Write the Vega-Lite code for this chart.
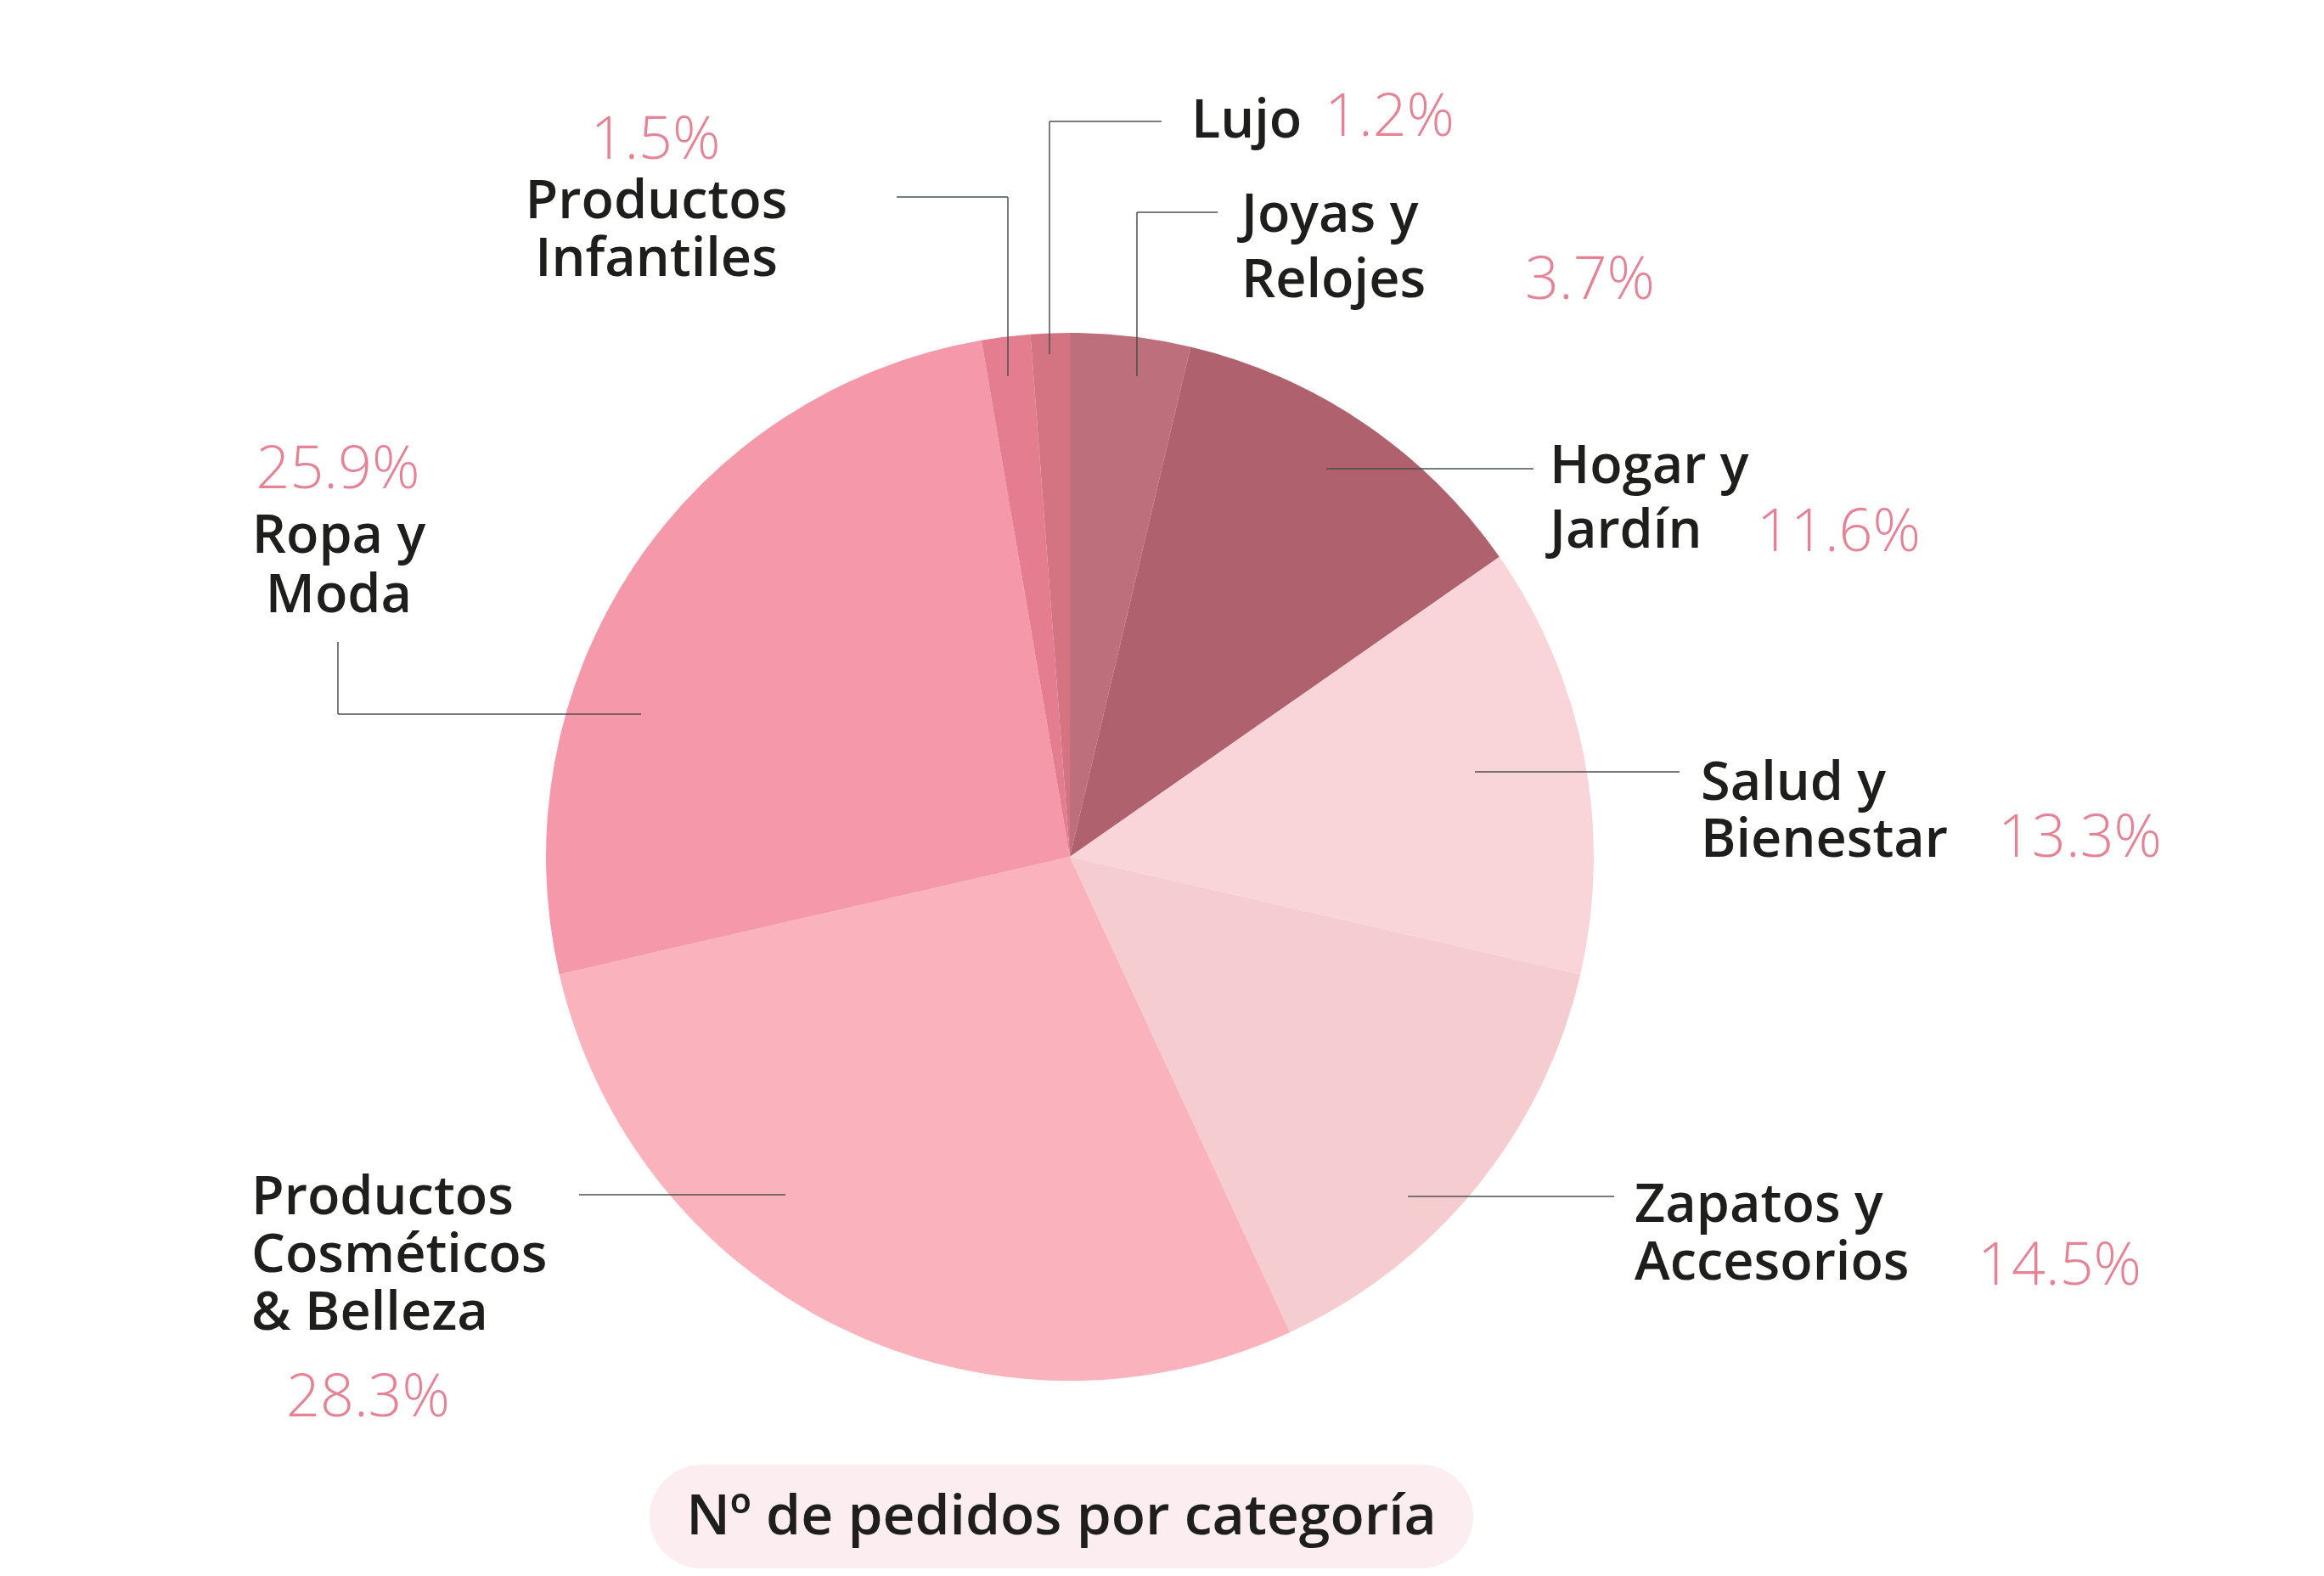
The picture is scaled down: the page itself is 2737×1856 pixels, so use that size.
{
  "$schema": "https://vega.github.io/schema/vega-lite/v6.json",
  "width": 2520,
  "height": 1694,
  "autosize": {"type": "none"},
  "padding": {"left": 0, "top": 162, "right": 217, "bottom": 0},
  "background": "white",
  "config": {"view": {"stroke": null}},
  "datasets": {
    "pedidos": [
      {"categoria": "Joyas y Relojes", "nombre": "Joyas y\nRelojes", "porcentaje": 3.7, "orden": 1},
      {"categoria": "Hogar y Jardín", "nombre": "Hogar y\nJardín", "porcentaje": 11.6, "orden": 2},
      {"categoria": "Salud y Bienestar", "nombre": "Salud y\nBienestar", "porcentaje": 13.3, "orden": 3},
      {"categoria": "Zapatos y Accesorios", "nombre": "Zapatos y\nAccesorios", "porcentaje": 14.5, "orden": 4},
      {"categoria": "Productos Cosméticos & Belleza", "nombre": "Productos\nCosméticos\n& Belleza", "porcentaje": 28.3, "orden": 5},
      {"categoria": "Ropa y Moda", "nombre": "Ropa y\nModa", "porcentaje": 25.9, "orden": 6},
      {"categoria": "Productos Infantiles", "nombre": "Productos\nInfantiles", "porcentaje": 1.5, "orden": 7},
      {"categoria": "Lujo", "nombre": "Lujo", "porcentaje": 1.2, "orden": 8}
    ]
  },
  "data": {"name": "pedidos"},
  "transform": [{"calculate": "format(datum.porcentaje, '.1f') + '%'", "as": "etiqueta"}],
  "layer": [
    {
      "mark": {"type": "arc", "radius": 617},
      "encoding": {
        "theta": {"field": "porcentaje", "type": "quantitative", "stack": true},
        "order": {"field": "orden", "type": "quantitative"},
        "color": {
          "field": "categoria", "type": "nominal", "legend": null,
          "scale": {
            "domain": ["Joyas y Relojes", "Hogar y Jardín", "Salud y Bienestar", "Zapatos y Accesorios", "Productos Cosméticos & Belleza", "Ropa y Moda", "Productos Infantiles", "Lujo"],
            "range": ["#BE6F7C", "#AF616E", "#F9D5DA", "#F5CDD0", "#FAB3BD", "#F598A9", "#E37D8F", "#D47382"]
          }
        }
      }
    },
    {
      "data": {"values": [{}]},
      "mark": {"type": "rect", "cornerRadius": 61, "color": "#FCEEF0"},
      "encoding": {
        "x": {"datum": -0.8023, "type": "quantitative", "axis": null, "scale": {"domain": [-2.0421, 2.0421], "nice": false, "zero": false}},
        "x2": {"datum": 0.7699},
        "y": {"datum": -1.1605, "type": "quantitative", "axis": null, "scale": {"domain": [-1.3728, 1.3728], "nice": false, "zero": false}},
        "y2": {"datum": -1.3582}
      }
    },
    {
      "data": {"values": [{}]},
      "mark": {"type": "text", "text": "Nº de pedidos por categoría", "align": "center", "baseline": "alphabetic", "font": "Open Sans", "fontWeight": 600, "fontSize": 66, "color": "#1E1E1C"},
      "encoding": {"x": {"datum": -0.0162, "type": "quantitative"}, "y": {"datum": -1.2934, "type": "quantitative"}}
    },
    {
      "data": {"values": [{}]},
      "mark": {"type": "rule", "color": "#4A524C", "strokeWidth": 1.5},
      "encoding": {"x": {"datum": -0.0389, "type": "quantitative"}, "x2": {"datum": 0.175}, "y": {"datum": 1.4036, "type": "quantitative"}, "y2": {"datum": 1.4036}}
    },
    {
      "data": {"values": [{}]},
      "mark": {"type": "rule", "color": "#4A524C", "strokeWidth": 1.5},
      "encoding": {"x": {"datum": -0.0389, "type": "quantitative"}, "x2": {"datum": -0.0389}, "y": {"datum": 1.4036, "type": "quantitative"}, "y2": {"datum": 0.9595}}
    },
    {
      "data": {"values": [{}]},
      "mark": {"type": "rule", "color": "#4A524C", "strokeWidth": 1.5},
      "encoding": {"x": {"datum": -0.3306, "type": "quantitative"}, "x2": {"datum": -0.1183}, "y": {"datum": 1.2593, "type": "quantitative"}, "y2": {"datum": 1.2593}}
    },
    {
      "data": {"values": [{}]},
      "mark": {"type": "rule", "color": "#4A524C", "strokeWidth": 1.5},
      "encoding": {"x": {"datum": -0.1183, "type": "quantitative"}, "x2": {"datum": -0.1183}, "y": {"datum": 1.2593, "type": "quantitative"}, "y2": {"datum": 0.9173}}
    },
    {
      "data": {"values": [{}]},
      "mark": {"type": "rule", "color": "#4A524C", "strokeWidth": 1.5},
      "encoding": {"x": {"datum": 0.128, "type": "quantitative"}, "x2": {"datum": 0.282}, "y": {"datum": 1.2301, "type": "quantitative"}, "y2": {"datum": 1.2301}}
    },
    {
      "data": {"values": [{}]},
      "mark": {"type": "rule", "color": "#4A524C", "strokeWidth": 1.5},
      "encoding": {"x": {"datum": 0.128, "type": "quantitative"}, "x2": {"datum": 0.128}, "y": {"datum": 1.2301, "type": "quantitative"}, "y2": {"datum": 0.9173}}
    },
    {
      "data": {"values": [{}]},
      "mark": {"type": "rule", "color": "#4A524C", "strokeWidth": 1.5},
      "encoding": {"x": {"datum": 0.4895, "type": "quantitative"}, "x2": {"datum": 0.8849}, "y": {"datum": 0.7407, "type": "quantitative"}, "y2": {"datum": 0.7407}}
    },
    {
      "data": {"values": [{}]},
      "mark": {"type": "rule", "color": "#4A524C", "strokeWidth": 1.5},
      "encoding": {"x": {"datum": 0.7731, "type": "quantitative"}, "x2": {"datum": 1.1637}, "y": {"datum": 0.1621, "type": "quantitative"}, "y2": {"datum": 0.1621}}
    },
    {
      "data": {"values": [{}]},
      "mark": {"type": "rule", "color": "#4A524C", "strokeWidth": 1.5},
      "encoding": {"x": {"datum": 0.6451, "type": "quantitative"}, "x2": {"datum": 1.0389}, "y": {"datum": -0.6483, "type": "quantitative"}, "y2": {"datum": -0.6483}}
    },
    {
      "data": {"values": [{}]},
      "mark": {"type": "rule", "color": "#4A524C", "strokeWidth": 1.5},
      "encoding": {"x": {"datum": -0.9368, "type": "quantitative"}, "x2": {"datum": -0.5429}, "y": {"datum": -0.6451, "type": "quantitative"}, "y2": {"datum": -0.6451}}
    },
    {
      "data": {"values": [{}]},
      "mark": {"type": "rule", "color": "#4A524C", "strokeWidth": 1.5},
      "encoding": {"x": {"datum": -1.3971, "type": "quantitative"}, "x2": {"datum": -1.3971}, "y": {"datum": 0.41, "type": "quantitative"}, "y2": {"datum": 0.2723}}
    },
    {
      "data": {"values": [{}]},
      "mark": {"type": "rule", "color": "#4A524C", "strokeWidth": 1.5},
      "encoding": {"x": {"datum": -1.3971, "type": "quantitative"}, "x2": {"datum": -0.8185}, "y": {"datum": 0.2723, "type": "quantitative"}, "y2": {"datum": 0.2723}}
    },
    {
      "transform": [{"filter": "datum.categoria === 'Lujo'"}],
      "mark": {"type": "text", "align": "left", "baseline": "alphabetic", "font": "Open Sans", "fontWeight": 600, "fontSize": 63, "letterSpacing": 1, "lineHeight": 72, "lineBreak": "\n", "color": "#1E1E1C"},
      "encoding": {"x": {"datum": 0.2318, "type": "quantitative"}, "y": {"datum": 1.3728, "type": "quantitative"}, "text": {"field": "nombre"}}
    },
    {
      "transform": [{"filter": "datum.categoria === 'Lujo'"}],
      "mark": {"type": "text", "align": "left", "baseline": "alphabetic", "font": "Open Sans", "fontWeight": 300, "fontSize": 70, "color": "#E58294"},
      "encoding": {"x": {"datum": 0.4862, "type": "quantitative"}, "y": {"datum": 1.376, "type": "quantitative"}, "text": {"field": "etiqueta"}}
    },
    {
      "transform": [{"filter": "datum.categoria === 'Productos Infantiles'"}],
      "mark": {"type": "text", "align": "center", "baseline": "alphabetic", "font": "Open Sans", "fontWeight": 600, "fontSize": 63, "letterSpacing": 1, "lineHeight": 68, "lineBreak": "\n", "color": "#1E1E1C"},
      "encoding": {"x": {"datum": -0.7893, "type": "quantitative"}, "y": {"datum": 1.2188, "type": "quantitative"}, "text": {"field": "nombre"}}
    },
    {
      "transform": [{"filter": "datum.categoria === 'Productos Infantiles'"}],
      "mark": {"type": "text", "align": "center", "baseline": "alphabetic", "font": "Open Sans", "fontWeight": 300, "fontSize": 70, "color": "#E58294"},
      "encoding": {"x": {"datum": -0.7909, "type": "quantitative"}, "y": {"datum": 1.3323, "type": "quantitative"}, "text": {"field": "etiqueta"}}
    },
    {
      "transform": [{"filter": "datum.categoria === 'Joyas y Relojes'"}],
      "mark": {"type": "text", "align": "left", "baseline": "alphabetic", "font": "Open Sans", "fontWeight": 600, "fontSize": 63, "letterSpacing": 1, "lineHeight": 77, "lineBreak": "\n", "color": "#1E1E1C"},
      "encoding": {"x": {"datum": 0.3274, "type": "quantitative"}, "y": {"datum": 1.1929, "type": "quantitative"}, "text": {"field": "nombre"}}
    },
    {
      "transform": [{"filter": "datum.categoria === 'Joyas y Relojes'"}],
      "mark": {"type": "text", "align": "left", "baseline": "alphabetic", "font": "Open Sans", "fontWeight": 300, "fontSize": 70, "color": "#E58294"},
      "encoding": {"x": {"datum": 0.8687, "type": "quantitative"}, "y": {"datum": 1.0648, "type": "quantitative"}, "text": {"field": "etiqueta"}}
    },
    {
      "transform": [{"filter": "datum.categoria === 'Hogar y Jardín'"}],
      "mark": {"type": "text", "align": "left", "baseline": "alphabetic", "font": "Open Sans", "fontWeight": 600, "fontSize": 63, "letterSpacing": 1, "lineHeight": 76, "lineBreak": "\n", "color": "#1E1E1C"},
      "encoding": {"x": {"datum": 0.9157, "type": "quantitative"}, "y": {"datum": 0.7131, "type": "quantitative"}, "text": {"field": "nombre"}}
    },
    {
      "transform": [{"filter": "datum.categoria === 'Hogar y Jardín'"}],
      "mark": {"type": "text", "align": "left", "baseline": "alphabetic", "font": "Open Sans", "fontWeight": 300, "fontSize": 70, "color": "#E58294"},
      "encoding": {"x": {"datum": 1.3112, "type": "quantitative"}, "y": {"datum": 0.5835, "type": "quantitative"}, "text": {"field": "etiqueta"}}
    },
    {
      "transform": [{"filter": "datum.categoria === 'Salud y Bienestar'"}],
      "mark": {"type": "text", "align": "left", "baseline": "alphabetic", "font": "Open Sans", "fontWeight": 600, "fontSize": 63, "letterSpacing": 1, "lineHeight": 67, "lineBreak": "\n", "color": "#1E1E1C"},
      "encoding": {"x": {"datum": 1.2042, "type": "quantitative"}, "y": {"datum": 0.1086, "type": "quantitative"}, "text": {"field": "nombre"}}
    },
    {
      "transform": [{"filter": "datum.categoria === 'Salud y Bienestar'"}],
      "mark": {"type": "text", "align": "left", "baseline": "alphabetic", "font": "Open Sans", "fontWeight": 300, "fontSize": 70, "color": "#E58294"},
      "encoding": {"x": {"datum": 1.7715, "type": "quantitative"}, "y": {"datum": 0.0, "type": "quantitative"}, "text": {"field": "etiqueta"}}
    },
    {
      "transform": [{"filter": "datum.categoria === 'Zapatos y Accesorios'"}],
      "mark": {"type": "text", "align": "left", "baseline": "alphabetic", "font": "Open Sans", "fontWeight": 600, "fontSize": 63, "letterSpacing": 1, "lineHeight": 68, "lineBreak": "\n", "color": "#1E1E1C"},
      "encoding": {"x": {"datum": 1.0778, "type": "quantitative"}, "y": {"datum": -0.6969, "type": "quantitative"}, "text": {"field": "nombre"}}
    },
    {
      "transform": [{"filter": "datum.categoria === 'Zapatos y Accesorios'"}],
      "mark": {"type": "text", "align": "left", "baseline": "alphabetic", "font": "Open Sans", "fontWeight": 300, "fontSize": 70, "color": "#E58294"},
      "encoding": {"x": {"datum": 1.7326, "type": "quantitative"}, "y": {"datum": -0.8169, "type": "quantitative"}, "text": {"field": "etiqueta"}}
    },
    {
      "transform": [{"filter": "datum.categoria === 'Productos Cosméticos & Belleza'"}],
      "mark": {"type": "text", "align": "left", "baseline": "alphabetic", "font": "Open Sans", "fontWeight": 600, "fontSize": 63, "letterSpacing": 1, "lineHeight": 68, "lineBreak": "\n", "color": "#1E1E1C"},
      "encoding": {"x": {"datum": -1.5624, "type": "quantitative"}, "y": {"datum": -0.6823, "type": "quantitative"}, "text": {"field": "nombre"}}
    },
    {
      "transform": [{"filter": "datum.categoria === 'Productos Cosméticos & Belleza'"}],
      "mark": {"type": "text", "align": "left", "baseline": "alphabetic", "font": "Open Sans", "fontWeight": 300, "fontSize": 70, "color": "#E58294"},
      "encoding": {"x": {"datum": -1.4959, "type": "quantitative"}, "y": {"datum": -1.0681, "type": "quantitative"}, "text": {"field": "etiqueta"}}
    },
    {
      "transform": [{"filter": "datum.categoria === 'Ropa y Moda'"}],
      "mark": {"type": "text", "align": "center", "baseline": "alphabetic", "font": "Open Sans", "fontWeight": 600, "fontSize": 63, "letterSpacing": 1, "lineHeight": 70, "lineBreak": "\n", "color": "#1E1E1C"},
      "encoding": {"x": {"datum": -1.3955, "type": "quantitative"}, "y": {"datum": 0.5802, "type": "quantitative"}, "text": {"field": "nombre"}}
    },
    {
      "transform": [{"filter": "datum.categoria === 'Ropa y Moda'"}],
      "mark": {"type": "text", "align": "center", "baseline": "alphabetic", "font": "Open Sans", "fontWeight": 300, "fontSize": 70, "color": "#E58294"},
      "encoding": {"x": {"datum": -1.3971, "type": "quantitative"}, "y": {"datum": 0.7034, "type": "quantitative"}, "text": {"field": "etiqueta"}}
    }
  ]
}
